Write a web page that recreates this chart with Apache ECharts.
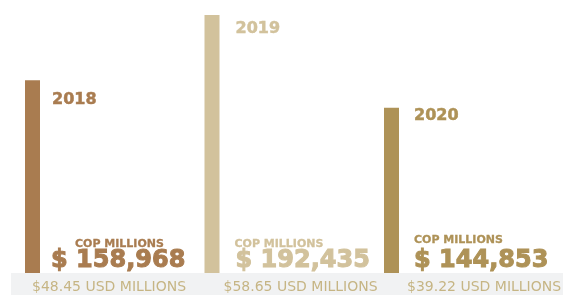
<!DOCTYPE html>
<html>
<head>
<meta charset="utf-8">
<script src="https://cdn.jsdelivr.net/npm/echarts@6/dist/echarts.min.js"></script>
<style>
  html, body { margin: 0; padding: 0; background: #fff; }
  #chart { width: 563px; height: 295px; }
</style>
</head>
<body>
<div id="chart"></div>
<script>
// Data
const years = ['2018', '2019', '2020'];
const copMillions = [158968, 192435, 144853];
const usdMillions = [48.45, 58.65, 39.22];
const barColors = ['#a97c50', '#d2c29c', '#ae9257'];

const fontFamily = '"DejaVu Sans", sans-serif';
const usdColor = '#c6b584';

// per-bar label offsets, relative to the bar's left edge
const yearDx = [27, 31, 30];
const yearDy = [20, 14, 8];
const copDx = [50, 30, 30];
const copDy = [-29, -29, -33];
const valDx = [26, 31, 30];
const usdDx = [7, 19, 23];

const chart = echarts.init(document.getElementById('chart'));

const fmtCop = (v) => '$ ' + v.toLocaleString('en-US');
const fmtUsd = (v) => '$' + v.toFixed(2) + ' USD MILLIONS';

// transparent overlay series carrying one text row each
const overlay = (name, makeLabel) => ({
  name,
  type: 'bar',
  barWidth: 15,
  barGap: '-100%',
  silent: true,
  z: 3,
  itemStyle: { color: 'transparent' },
  data: copMillions.map((v, i) => ({ value: v, label: makeLabel(v, i) })),
});

chart.setOption({
  animation: false,
  grid: { left: 32.5, right: 171.5, top: 15, bottom: 22 },
  xAxis: {
    type: 'category',
    data: years,
    boundaryGap: false,
    axisLine: { show: false },
    axisTick: { show: false },
    axisLabel: { show: false },
  },
  yAxis: {
    type: 'value',
    min: 60000,
    max: 'dataMax',
    show: false,
    splitLine: { show: false },
  },
  graphic: [
    {
      type: 'rect',
      left: 11,
      bottom: 0,
      z: 0,
      shape: { width: 552, height: 22 },
      style: { fill: '#f1f2f3' },
    },
  ],
  series: [
    {
      name: 'bars',
      type: 'bar',
      barWidth: 15,
      z: 2,
      data: copMillions.map((v, i) => ({
        value: v,
        itemStyle: { color: barColors[i] },
        label: {
          show: true,
          formatter: years[i],
          position: [yearDx[i], yearDy[i]],
          align: 'left',
          verticalAlign: 'middle',
          color: barColors[i],
          fontFamily,
          fontWeight: 'bold',
          fontSize: 16,
          textBorderColor: barColors[i],
          textBorderWidth: 0.5,
        },
      })),
    },
    overlay('cop', (v, i) => ({
      show: true,
      formatter: 'COP MILLIONS',
      position: 'insideBottomLeft',
      distance: 0,
      offset: [copDx[i], copDy[i]],
      align: 'left',
      verticalAlign: 'middle',
      color: barColors[i],
      fontFamily,
      fontWeight: 'bold',
      fontSize: 11,
      textBorderColor: barColors[i],
      textBorderWidth: 0.3,
    })),
    overlay('val', (v, i) => ({
      show: true,
      formatter: fmtCop(v),
      position: 'insideBottomLeft',
      distance: 0,
      offset: [valDx[i], -12],
      align: 'left',
      verticalAlign: 'middle',
      color: barColors[i],
      fontFamily,
      fontWeight: 'bold',
      fontSize: 24,
      textBorderColor: barColors[i],
      textBorderWidth: 1,
    })),
    overlay('usd', (v, i) => ({
      show: true,
      formatter: fmtUsd(usdMillions[i]),
      position: 'insideBottomLeft',
      distance: 0,
      offset: [usdDx[i], 14],
      align: 'left',
      verticalAlign: 'middle',
      color: usdColor,
      fontFamily,
      fontSize: 14,
    })),
  ],
});
</script>
</body>
</html>
